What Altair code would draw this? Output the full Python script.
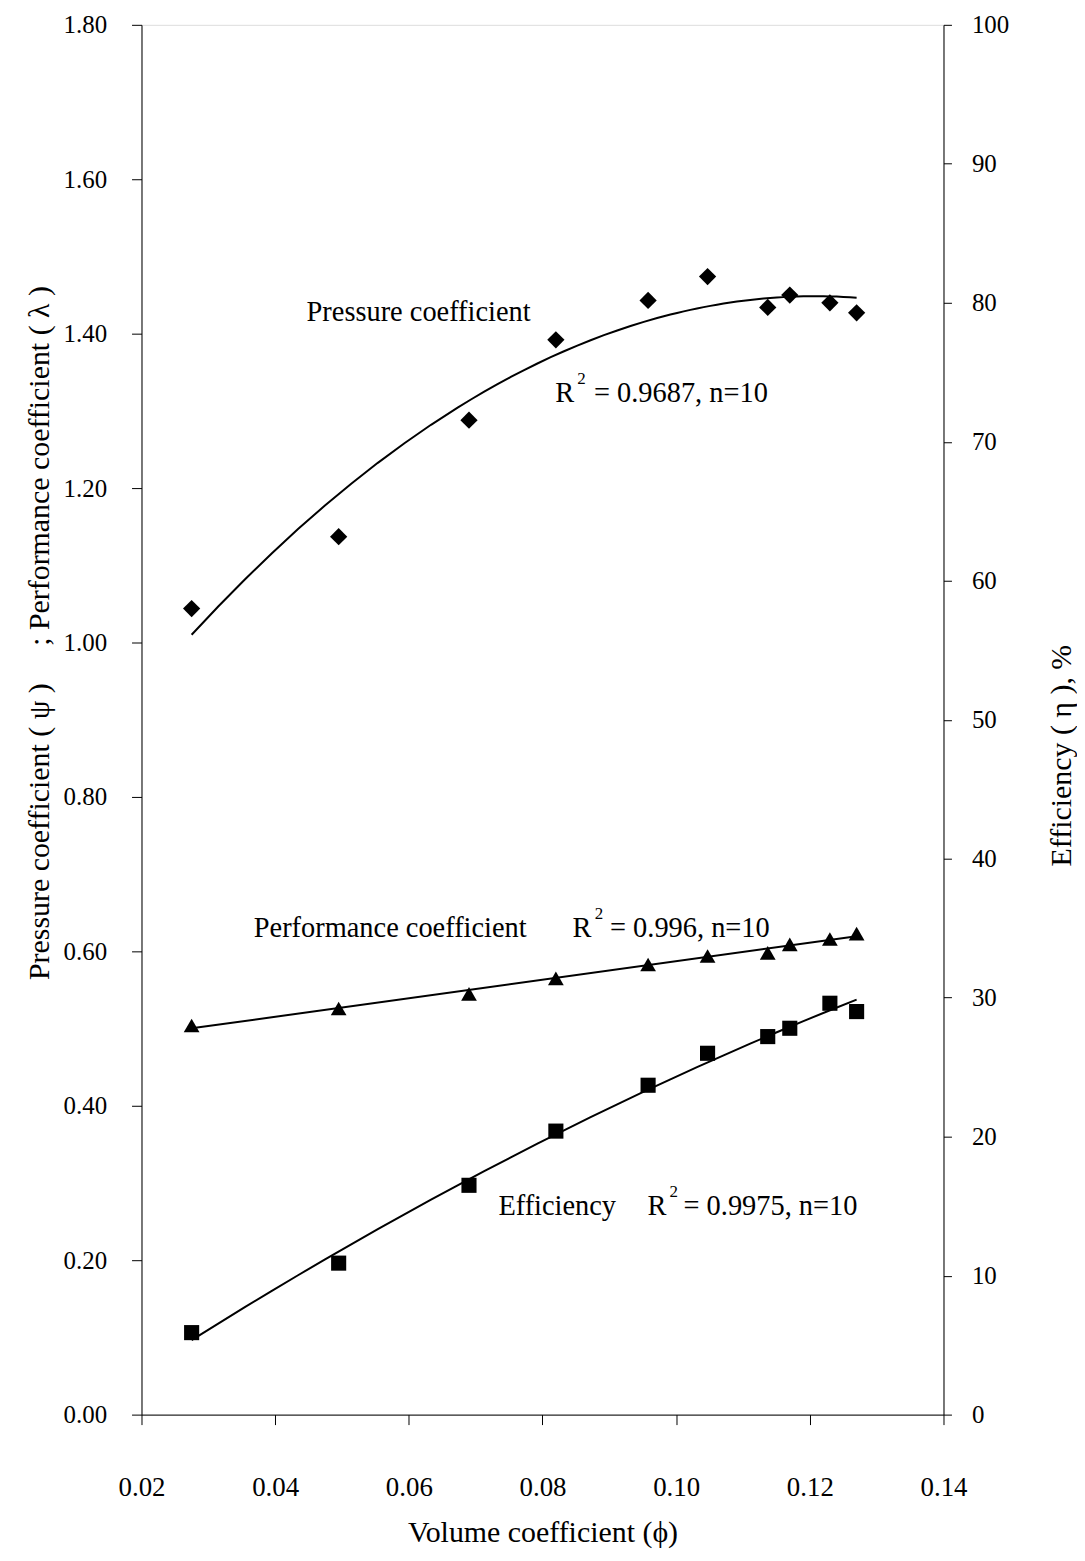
import altair as alt
import pandas as pd

# ---- data ----
phi = [0.0275, 0.0495, 0.0690, 0.0820, 0.0958, 0.1047, 0.1137, 0.1170, 0.1230, 0.1270]
pressure = [1.044, 1.137, 1.288, 1.392, 1.443, 1.474, 1.434, 1.450, 1.440, 1.427]
performance = [0.504, 0.526, 0.545, 0.565, 0.583, 0.594, 0.598, 0.609, 0.616, 0.623]
efficiency = [5.9, 10.9, 16.5, 20.4, 23.7, 26.0, 27.2, 27.8, 29.6, 29.0]

x_ticks = [0.02, 0.04, 0.06, 0.08, 0.10, 0.12, 0.14]
left_ticks = [0.0, 0.2, 0.4, 0.6, 0.8, 1.0, 1.2, 1.4, 1.6, 1.8]
right_ticks = [0, 10, 20, 30, 40, 50, 60, 70, 80, 90, 100]

ann_text = ["Pressure coefficient", "R", "2", "= 0.9687, n=10",
            "Performance coefficient", "R", "2", "= 0.996, n=10",
            "Efficiency", "R", "2", "= 0.9975, n=10"]
ann_phi = [0.0447, 0.0819, 0.0852, 0.0877,
           0.0368, 0.0845, 0.0878, 0.0901,
           0.0734, 0.0957, 0.0990, 0.1011]
ann_val = [1.428, 1.323, 1.341, 1.323,
           0.630, 0.630, 0.648, 0.630,
           0.270, 0.270, 0.288, 0.270]
ann_size = [28.5, 28.5, 17, 28.5, 28.5, 28.5, 17, 28.5, 28.5, 28.5, 17, 28.5]

FONT = "Liberation Serif"

df = pd.DataFrame({"phi": phi, "pressure": pressure,
                   "performance": performance, "efficiency": efficiency})
ann = pd.DataFrame({"label": ann_text, "phi": ann_phi, "val": ann_val, "fs": ann_size})

xscale = alt.Scale(domain=[0.02, 0.14], nice=False, zero=False)
xaxis = alt.Axis(values=x_ticks, format=".2f", grid=False, tickSize=10,
                 labelPadding=50, labelFont=FONT, labelFontSize=27, labelFlush=False,
                 labelColor="black", tickColor="black", domainColor="black",
                 title="Volume coefficient (\u03d5)", titleFont=FONT,
                 titleFontSize=30, titleFontWeight="normal", titleColor="black",
                 titleBaseline="alphabetic", titleY=127)
X = alt.X("phi:Q", scale=xscale, axis=xaxis)

yl_scale = alt.Scale(domain=[0, 1.8], nice=False)
left_title = "Pressure coefficient ( \u03c8 )\u00a0\u00a0\u00a0\u00a0\u00a0; Performance coefficient ( \u03bb )"
left_axis = alt.Axis(values=left_ticks, format=".2f", orient="left", grid=False,
                     tickSize=10, labelPadding=25, labelFont=FONT, labelFontSize=25,
                     labelFlush=False,
                     labelColor="black", tickColor="black", domainColor="black",
                     title=left_title, titleFont=FONT, titleFontSize=30,
                     titleFontWeight="normal", titleColor="black",
                     titleAngle=270, titleX=-102, titleY=610, titleBaseline="middle")

yr_scale = alt.Scale(domain=[0, 100], nice=False)
right_axis = alt.Axis(values=right_ticks, format="d", orient="right", grid=False,
                      tickSize=8, labelPadding=20, labelFont=FONT, labelFontSize=25,
                      labelFlush=False,
                      labelColor="black", tickColor="black", domainColor="black",
                      title="Efficiency ( \u03b7 ), %", titleFont=FONT, titleFontSize=30,
                      titleFontWeight="normal", titleColor="black",
                      titleAngle=270, titleX=118, titleY=733, titleBaseline="middle")

base = alt.Chart(df)

press_pts = base.mark_point(shape="diamond", filled=True, size=300, color="black",
                            opacity=1).encode(
    x=X, y=alt.Y("pressure:Q", scale=yl_scale, axis=left_axis))
press_fit = base.transform_regression("phi", "pressure", method="poly", order=2).mark_line(
    color="black", strokeWidth=2).encode(
    x=X, y=alt.Y("pressure:Q", scale=yl_scale, axis=left_axis))
perf_pts = base.mark_point(shape="triangle-up", filled=True, size=250, color="black",
                           opacity=1).encode(
    x=X, y=alt.Y("performance:Q", scale=yl_scale, axis=left_axis))
perf_fit = base.transform_regression("phi", "performance", method="linear").mark_line(
    color="black", strokeWidth=2).encode(
    x=X, y=alt.Y("performance:Q", scale=yl_scale, axis=left_axis))
texts = alt.Chart(ann).mark_text(font=FONT, align="left", baseline="middle",
                                 color="black").encode(
    x=X, y=alt.Y("val:Q", scale=yl_scale, axis=left_axis),
    text="label:N", size=alt.Size("fs:Q", scale=None))

left = alt.layer(press_fit, press_pts, perf_fit, perf_pts, texts)

eff_pts = base.mark_point(shape="square", filled=True, size=230, color="black",
                          opacity=1).encode(
    x=X, y=alt.Y("efficiency:Q", scale=yr_scale, axis=right_axis))
eff_fit = base.transform_regression("phi", "efficiency", method="poly", order=2).mark_line(
    color="black", strokeWidth=2).encode(
    x=X, y=alt.Y("efficiency:Q", scale=yr_scale, axis=right_axis))
right = alt.layer(eff_fit, eff_pts)

chart = alt.layer(left, right).resolve_scale(y="independent").properties(
    width=805, height=1395,
    autosize=alt.AutoSizeParams(type="none"),
    padding={"left": 134, "top": 14, "right": 134, "bottom": 134},
    background="white",
).configure_view(stroke="black", strokeWidth=1).configure_axis(
    titleFont=FONT, labelFont=FONT).configure(font=FONT)

chart.save("out.html", embed_options={"renderer": "svg", "actions": False})
